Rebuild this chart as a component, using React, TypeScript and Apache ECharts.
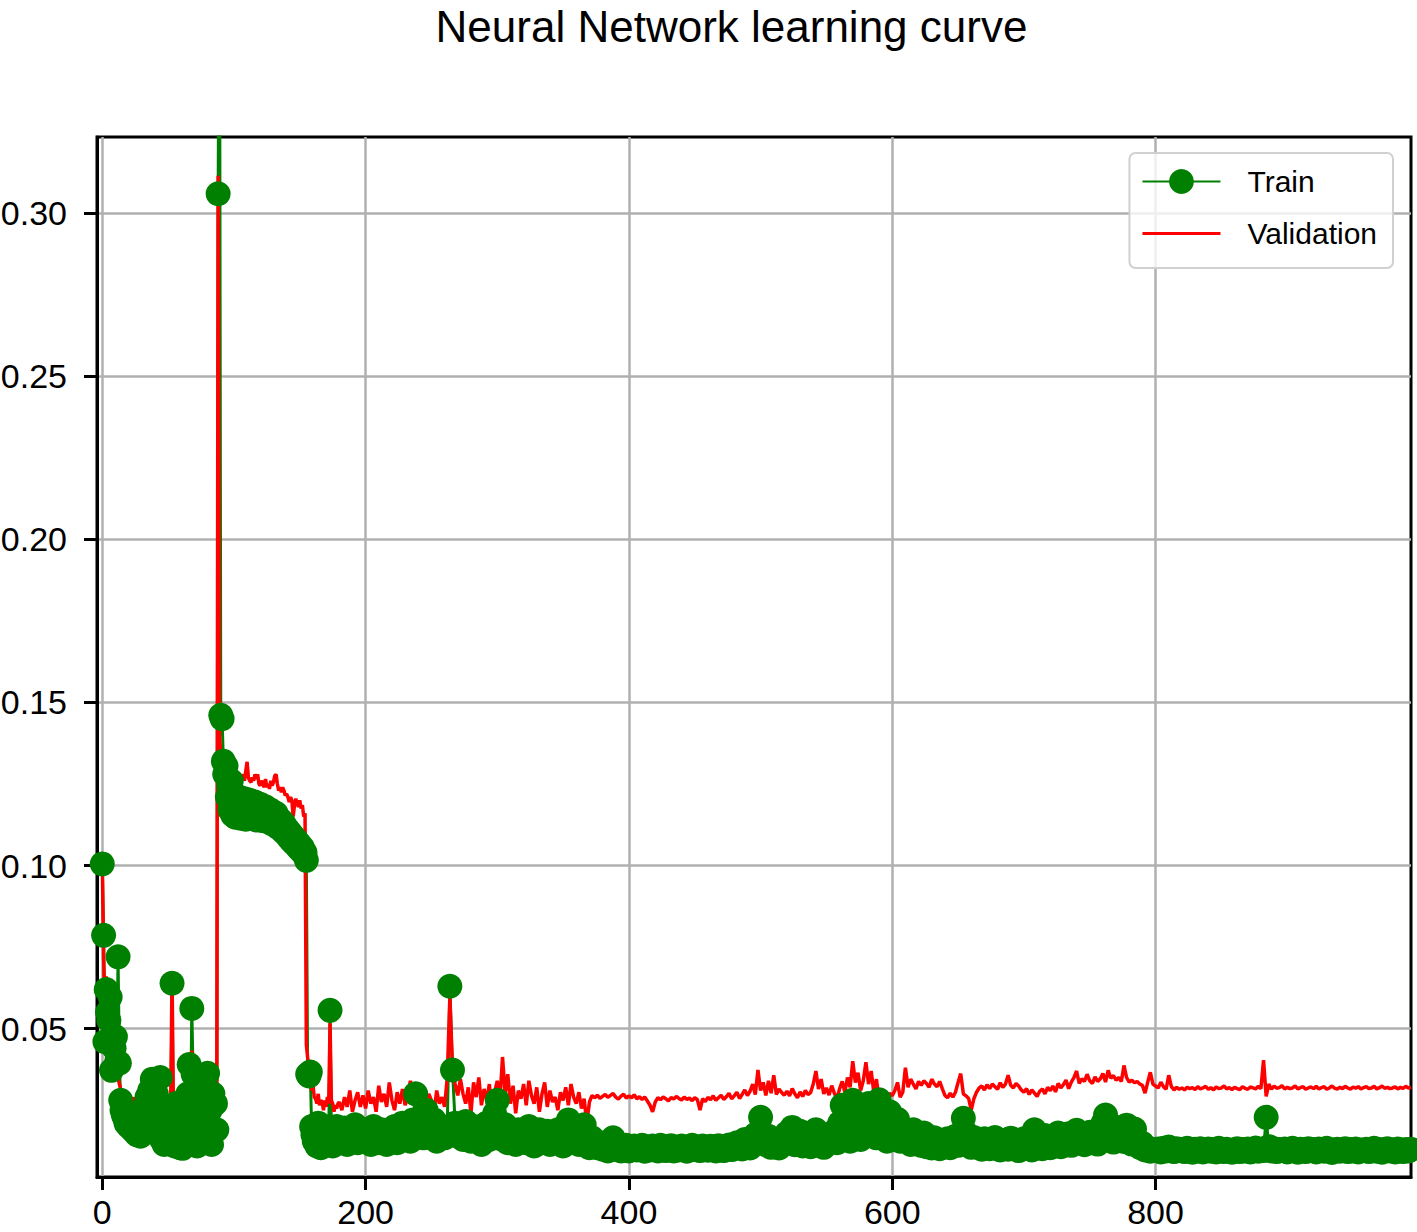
import React, { useEffect, useRef } from "react";
import * as echarts from "echarts";

const TITLE = "Neural Network learning curve";
const TRAIN_NAME = "Train";
const VALID_NAME = "Validation";
const X_TICKS = [0, 200, 400, 600, 800];
const Y_TICKS = [0.05, 0.1, 0.15, 0.2, 0.25, 0.3];
const X_MIN = -4;
const X_MAX = 994;
const Y_MIN = 0.0045;
const Y_MAX = 0.3234;

// Loss values in thousandths (0.0135 -> 13.5).
// Epochs 0..179, one value per epoch.
const trainEarly = [
  100.5, 78.6, 46, 62, 55, 52.5, 59.7, 37.2, 48, 44,
  47.5, 40, 72, 39.4, 28, 25, 23.5, 22.7, 21, 22.5,
  20, 23, 19.5, 18.8, 20.5, 18.4, 17.5, 19, 21, 17,
  18.5, 23, 26, 21, 29, 24, 31, 20, 34.5, 27,
  22, 30, 18, 25, 35, 16, 21, 14.5, 19, 24,
  15, 17.5, 22, 63.9, 20, 14, 27, 16, 19.5, 13.5,
  23, 13.3, 17, 25, 15, 30, 39, 21, 56.2, 36,
  18, 26, 14, 33, 20, 15.5, 28, 17, 35, 22,
  36.3, 16, 25, 14.5, 30, 19, 27, 19, 306, 400,
  146.1, 145, 132, 128, 130.5, 121, 124.5, 117, 126, 115.5,
  120, 114.8, 119.5, 117, 121, 114.5, 118.5, 115.5, 120.5, 114.2,
  118, 116, 120, 114.5, 117.5, 115.2, 119.5, 114, 117, 115.5,
  118.8, 113.8, 116.5, 114.5, 118, 113.5, 116, 114.2, 117, 112.8,
  115.5, 113, 116, 111.8, 114.5, 112, 113.8, 110.5, 112.8, 109.8,
  111.5, 108.8, 110.5, 107.8, 109.5, 107, 108.5, 106.2, 107.5, 105.2,
  106.5, 104.5, 105.5, 103.5, 104, 101.6, 36, 35.5, 36.7, 20,
  17.5, 15.5, 19, 14, 21, 16, 13.5, 18, 15, 20,
  14.5, 17, 16, 55.6, 19, 14, 17.5, 15, 20, 16,
];

const validEarly = [
  102, 72, 58, 66, 55, 50, 53, 46, 49, 44,
  42, 37, 35, 33, 31.5, 29, 27, 30, 25, 23,
  25.5, 22, 27, 24, 29, 26, 28, 23, 27.5, 26,
  30, 28, 34, 31, 37, 33, 28, 31, 29, 38,
  33, 29, 31, 26, 29, 25, 28, 23, 27, 24,
  29, 25, 27, 67, 26, 23, 29, 25, 31, 24,
  27, 22.5, 28, 25, 30, 27, 27, 29, 43.3, 25,
  24, 28, 22, 30, 26, 23, 34, 27, 33.5, 24,
  18.8, 26, 28, 22, 27, 24, 22, 29, 311.5, 140,
  134, 133.3, 131, 128, 127, 125.5, 127, 125, 126.5, 124.5,
  124, 124, 126, 125, 127.5, 125.5, 126.5, 128, 126, 129,
  131.8, 127, 126, 125.5, 127, 126, 128, 126.5, 128, 125,
  124.5, 126, 125, 124, 126.5, 124, 125, 123.5, 126, 124.5,
  125.5, 127.5, 128, 125, 123, 124, 122.5, 124, 123, 121.5,
  122, 121, 119.5, 121, 120, 115, 118.5, 120.5, 119, 118,
  120, 117.5, 118.5, 115, 116, 45, 41, 38, 34, 31,
  33, 29, 28.5, 27, 30, 26.5, 28, 27.5, 25, 28,
  26, 29, 27, 51.6, 28, 27, 24.5, 26.5, 25.5, 27,
];

// Epochs 180..994, every second epoch.
const LATE_START = 180;
const LATE_STEP = 2;

const trainLate = [
  17, 15, 19.5, 14.5, 18, 16, 20.5, 15, 17.5, 19, // 180
  15.5, 18, 14.5, 20, 16.5, 15, 19, 17, 14.5, 18.5, // 200
  16, 20, 15, 17.5, 21, 16, 18, 15.5, 22, 30, // 220
  18, 21, 16.5, 25, 17, 19.5, 22, 15.5, 18, 20, // 240
  16.5, 19, 63, 37.3, 21, 17, 19.5, 16, 21.5, 18, // 260
  15.5, 20, 17, 19, 14.5, 18.5, 21, 16, 19.5, 24, // 280
  28, 19, 16, 20.5, 15, 18, 17, 14.5, 19, 16.5, // 300
  18, 15, 20, 16.5, 14, 17.5, 19, 15, 16, 18.5, // 320
  14.5, 17, 15.5, 19, 16, 14, 17.5, 22, 19.3, 15.5, // 340
  18, 14.5, 16, 20.5, 15, 13.5, 16.5, 14.5, 13.5, 15, // 360
  13, 14.5, 12.5, 14, 16.5, 13, 14, 12.5, 13.5, 14.2, // 380
  12.5, 13.5, 14, 12.8, 13.2, 14.2, 12.4, 13.6, 12.8, 14, // 400
  13, 12.5, 14.2, 13.4, 12.6, 13.8, 14.1, 12.5, 13.3, 12.8, // 420
  14, 13.1, 12.4, 13.7, 14.2, 12.9, 13.5, 12.6, 14, 13.2, // 440
  12.7, 13.9, 13.3, 12.5, 14.1, 13, 12.6, 13.8, 14.3, 12.9, // 460
  13.6, 15, 14.2, 13.1, 16, 14.5, 13.4, 15.5, 17.5, 15, // 480
  22.8, 16, 14.4, 17, 13.6, 15.8, 14.2, 13.4, 16.5, 14.8, // 500
  18, 15.2, 19.7, 14.4, 16.8, 18.5, 14, 15.6, 17, 13.8, // 520
  16.2, 19, 14.5, 15.8, 13.6, 17.2, 14.8, 16, 18.5, 15, // 540
  21, 26.5, 17, 22, 15.5, 28, 19.5, 24, 16, 21, // 560
  17.5, 27, 20, 23.5, 16.5, 28.2, 19, 22.5, 15.5, 24.5, // 580
  21, 17.5, 22.2, 15.5, 19, 16.5, 18.5, 14.5, 19, 15.6, // 600
  16.5, 14.2, 18, 13.8, 15.6, 13.4, 16.5, 14.8, 13.2, 15.2, // 620
  14, 16.2, 13.5, 15.8, 17, 14.2, 16, 22.5, 18, 15.4, // 640
  13.6, 16.6, 14.2, 15.8, 13, 16.2, 14.4, 13.2, 15, 16.6, // 660
  14, 12.8, 15.6, 14.2, 13, 16.4, 13.8, 15, 12.6, 14.8, // 680
  16.2, 13.4, 15, 12.8, 19, 14.4, 16.6, 13.2, 17.2, 15, // 700
  13.5, 16.8, 14.6, 18, 13.8, 16.2, 15, 17.8, 14.2, 16.5, // 720
  18.8, 15.2, 17.6, 14.4, 16.4, 18.2, 15, 17, 14.6, 19, // 740
  21, 23.5, 17.5, 20.5, 15.2, 18.8, 16.4, 19.4, 15.4, 20.4, // 760
  17.2, 14.6, 19.2, 15.8, 13.6, 14.8, 12.8, 13.4, 12.4, 13, // 780
  12.6, 13.1, 12.2, 13.3, 12.5, 13.7, 12.8, 12.3, 13.2, 12.6, // 800
  12.9, 12.3, 13.3, 12.6, 12.1, 13, 12.5, 13.2, 12.2, 12.8, // 820
  13.1, 12.4, 12.9, 12.2, 13.3, 12.7, 12.3, 13, 12.5, 12.1, // 840
  12.8, 13.2, 12.3, 12.9, 12.5, 13.1, 12.2, 12.7, 13.4, 12.4, // 860
  13, 12.6, 22.8, 13.8, 12.5, 13.2, 12.3, 12.9, 12.6, 13.1, // 880
  12.2, 12.8, 13.3, 12.5, 12.1, 13, 12.7, 12.3, 13.2, 12.6, // 900
  12.9, 12.2, 13.1, 12.6, 12.4, 13.3, 12.5, 12, 12.8, 13, // 920
  12.4, 12.7, 13.2, 12.3, 12.9, 12.5, 13.1, 12.2, 12.8, 12.6, // 940
  13, 12.3, 12.7, 13.3, 12.4, 12.9, 12.1, 12.6, 13.2, 12.5, // 960
  12.8, 12.2, 13.1, 12.6, 12.3, 12.9, 12.5, 13, // 980
];

const validLate = [
  27.5, 25, 29, 26, 31, 24.5, 28, 30.5, 26, 29.5, // 180
  25.5, 31, 27, 29, 24.5, 32.5, 27.5, 30, 26, 33.5, // 200
  28, 25, 30.5, 27, 31.5, 26.5, 29, 34, 27.5, 30, // 220
  25.5, 29.5, 32, 26.5, 30, 28, 24.5, 31, 27, 29, // 240
  26, 35, 59.5, 38, 33, 29.5, 34.5, 30, 27, 32, // 260
  24, 33.5, 29, 35, 26.5, 31.5, 28, 33, 24, 30.5, // 280
  34, 28, 41.3, 30, 36, 27, 32.5, 24, 31, 28.5, // 300
  33, 26.5, 34, 29.5, 27, 32, 24.5, 30, 33.5, 26, // 320
  31, 27.5, 29, 25, 30.5, 28, 32, 26.5, 33, 29, // 340
  27, 30.5, 25.5, 28.5, 21, 27.5, 29.5, 28.8, 29.6, 28.6, // 360
  29.2, 29.8, 28.9, 29.5, 30.1, 29, 28.4, 29.3, 29.9, 28.7, // 380
  29.4, 28.8, 29.7, 28.5, 29.1, 28.3, 29, 27.8, 26.5, 24.5, // 400
  27.5, 28.8, 28.2, 29, 28.5, 27.8, 28.9, 28.4, 29.2, 28.6, // 420
  28.1, 29, 28.3, 28.7, 27.9, 28.8, 28.2, 25, 28.5, 27.6, // 440
  28.9, 28.2, 29.4, 28, 28.8, 29.6, 28.3, 29.1, 30.2, 28.5, // 460
  29.4, 30.5, 28.6, 29.8, 31.2, 29.5, 30.8, 33, 29.8, 37.3, // 480
  31, 33.5, 29.5, 34, 30.2, 35.7, 29.8, 31.5, 30.4, 29.6, // 500
  30.8, 29.4, 31.6, 30, 28.8, 30.6, 29.2, 31, 29.8, 30.4, // 520
  33, 37, 31.5, 34.5, 30, 31.8, 29.6, 32.5, 30.2, 28.6, // 540
  31.5, 33.8, 30.5, 35, 32, 40, 33.5, 36.5, 31, 34, // 560
  39.7, 33, 37, 30.5, 34.5, 28, 31.5, 30, 29, 30.2, // 580
  29.4, 31, 33.5, 29, 30.5, 38, 32, 34.5, 33, 31.5, // 600
  33.8, 32.6, 34, 33.2, 32, 34.5, 33, 32.2, 33.8, 31.6, // 620
  29.5, 28.8, 30.2, 29, 30.5, 33.5, 36.2, 30, 29.4, 28.6, // 640
  25, 28.5, 30.5, 31.8, 32.4, 31.2, 32.8, 31.6, 33, 32.2, // 660
  31.4, 33.4, 32, 33, 35.7, 32.6, 31.8, 33.2, 32.4, 31.2, // 680
  30.5, 31.6, 29.8, 31.2, 30.2, 29.2, 30.8, 31.5, 30, 32, // 700
  31, 32.4, 30.6, 33.2, 31.8, 32.8, 34.2, 31.6, 33.6, 35, // 720
  37, 33.2, 34.6, 33.8, 36, 34, 33.2, 35.2, 33.8, 34.6, // 740
  36.2, 33.6, 37.2, 34.8, 35.6, 34.2, 35, 33.8, 38.7, 35, // 760
  33.6, 34.2, 33.4, 33.8, 33, 32.6, 30.2, 33.5, 36.6, 33, // 780
  32.4, 31.8, 33.6, 32.2, 31.4, 35.7, 32.2, 31.2, 32, 31.4, // 800
  31.8, 31.2, 32, 31.6, 31.9, 31.3, 32.2, 31.5, 31.8, 32.3, // 820
  31.4, 31.9, 31.2, 32.1, 31.6, 31.8, 32.4, 31.5, 31.9, 31.3, // 840
  32, 31.6, 31.3, 32.2, 31.7, 31.4, 32.1, 31.8, 31.5, 32.3, // 860
  31.6, 40.3, 29.2, 33, 31.4, 32.4, 31.7, 31.9, 32.5, 31.5, // 880
  32, 31.6, 31.8, 32.4, 31.5, 31.9, 32.2, 31.4, 31.8, 32.1, // 900
  31.6, 32.3, 31.5, 31.9, 32.2, 31.4, 31.8, 32.4, 31.7, 31.5, // 920
  32, 31.6, 32.3, 31.8, 31.4, 32.1, 31.7, 32.2, 31.5, 31.9, // 940
  32.2, 31.6, 31.8, 32.3, 31.5, 31.9, 32.4, 31.7, 32, 31.6, // 960
  31.8, 32.1, 31.5, 32, 31.7, 32.3, 31.8, 32, // 980
];

function toPoints(early: number[], late: number[]): [number, number][] {
  const pts: [number, number][] = early.map((v, i) => [i, v / 1000]);
  late.forEach((v, i) => pts.push([LATE_START + i * LATE_STEP, v / 1000]));
  return pts;
}

const FONT = "Liberation Sans";

export default function App() {
  const ref = useRef<HTMLDivElement | null>(null);

  useEffect(() => {
    document.body.style.margin = "0";
    if (!ref.current) return;
    const chart = echarts.init(ref.current, undefined, { renderer: "svg" });
    chart.setOption({
      animation: false,
      backgroundColor: "#ffffff",
      title: {
        text: TITLE,
        left: 731.5,
        top: 4,
        padding: 0,
        textAlign: "center",
        textStyle: {
          fontFamily: FONT,
          fontSize: 44,
          lineHeight: 44,
          fontWeight: "normal",
          color: "#000",
        },
      },
      grid: {
        left: 97,
        right: 6,
        top: 137,
        bottom: 55,
        outerBoundsMode: "none",
        containLabel: false,
        show: true,
        borderColor: "#000",
        borderWidth: 3,
        backgroundColor: "transparent",
      },
      legend: {
        orient: "vertical",
        right: 24,
        top: 153,
        padding: [13.5, 16, 19.5, 12],
        itemWidth: 78,
        itemHeight: 31,
        itemGap: 22,
        selectedMode: false,
        backgroundColor: "rgba(255,255,255,0.8)",
        borderColor: "#d0d0d0",
        borderWidth: 2,
        borderRadius: 6,
        textStyle: {
          fontFamily: FONT,
          fontSize: 30,
          color: "#000",
          padding: [0, 0, 0, 22],
        },
        data: [
          { name: TRAIN_NAME },
          { name: VALID_NAME, icon: "path://M0,0L78,0L78,3L0,3Z" },
        ],
      },
      xAxis: {
        type: "value",
        min: X_MIN,
        max: X_MAX,
        axisLine: { show: true, onZero: false, lineStyle: { color: "#000", width: 3 } },
        axisTick: {
          show: true,
          customValues: X_TICKS,
          length: 13,
          lineStyle: { color: "#000", width: 3 },
        },
        axisLabel: {
          customValues: X_TICKS,
          margin: 18,
          fontFamily: FONT,
          fontSize: 34,
          color: "#000",
        },
        splitLine: { show: true, lineStyle: { color: "#b0b0b0", width: 2.5 } },
      },
      yAxis: {
        type: "value",
        min: Y_MIN,
        max: Y_MAX,
        axisLine: { show: true, onZero: false, lineStyle: { color: "#000", width: 3 } },
        axisTick: {
          show: true,
          customValues: Y_TICKS,
          length: 13,
          lineStyle: { color: "#000", width: 3 },
        },
        axisLabel: {
          customValues: Y_TICKS,
          margin: 30,
          fontFamily: FONT,
          fontSize: 34,
          color: "#000",
          formatter: (v: number) => v.toFixed(2),
        },
        splitLine: { show: true, lineStyle: { color: "#b0b0b0", width: 2.5 } },
      },
      series: [
        {
          name: TRAIN_NAME,
          type: "line",
          data: toPoints(trainEarly, trainLate),
          color: "#008000",
          symbol: "circle",
          symbolSize: 25,
          showSymbol: true,
          showAllSymbol: true,
          lineStyle: { width: 3, color: "#008000" },
          itemStyle: { color: "#008000" },
          silent: true,
          clip: true,
        },
        {
          name: VALID_NAME,
          type: "line",
          data: toPoints(validEarly, validLate),
          color: "#ff0000",
          symbol: "none",
          lineStyle: { width: 3.5, color: "#ff0000" },
          itemStyle: { color: "#ff0000" },
          silent: true,
          clip: true,
        },
      ],
    });
    return () => chart.dispose();
  }, []);

  return (
    <div
      ref={ref}
      style={{ position: "absolute", left: 0, top: 0, width: 1417, height: 1232, background: "#fff" }}
    />
  );
}
